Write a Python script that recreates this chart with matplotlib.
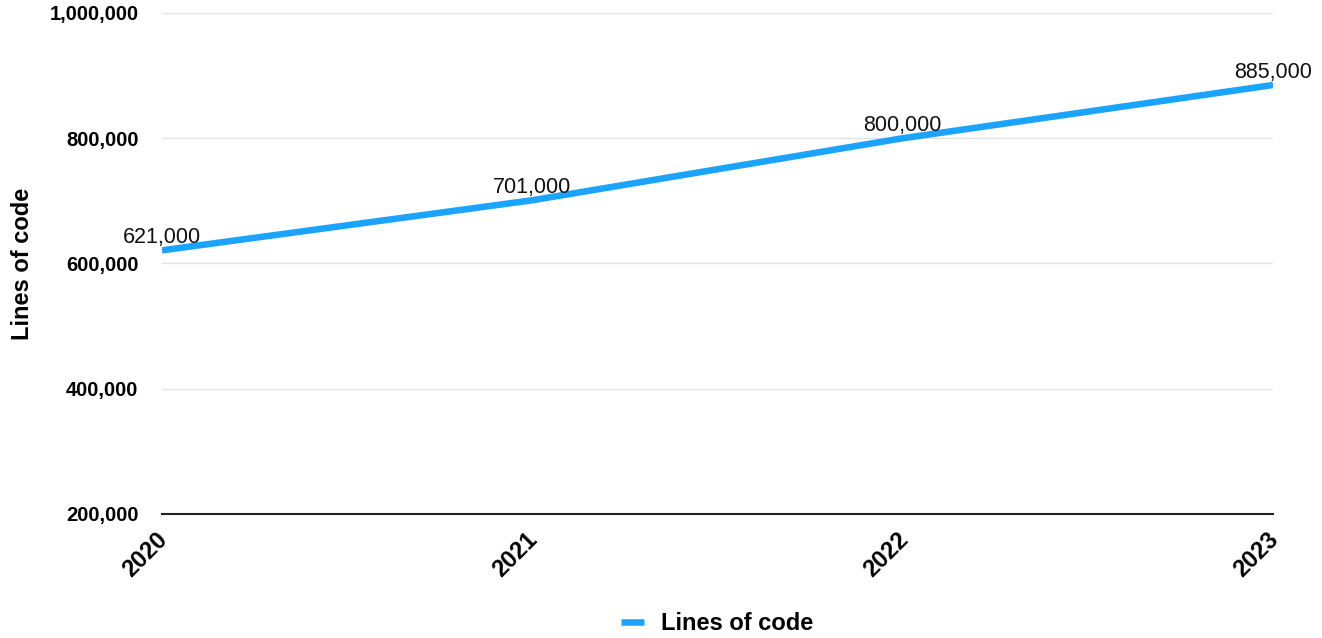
import matplotlib
matplotlib.use("Agg")
import matplotlib.pyplot as plt
from matplotlib.ticker import FuncFormatter

years = ["2020", "2021", "2022", "2023"]
lines_of_code = [621000, 701000, 800000, 885000]
y_ticks = [200000, 400000, 600000, 800000, 1000000]
series_name = "Lines of code"

plt.rcParams["font.family"] = ["Liberation Sans", "DejaVu Sans"]

fig = plt.figure(figsize=(13.22, 6.38), dpi=100)
ax = fig.add_axes([162 / 1322, 1 - 514 / 638, (1273 - 162) / 1322, (514 - 13) / 638])

x = list(range(len(years)))
ax.plot(x, lines_of_code, color="#1aa3ff", linewidth=4.7,
        solid_capstyle="butt", solid_joinstyle="round", label=series_name, zorder=3)

# value labels above each point
for xi, v in zip(x, lines_of_code):
    ax.annotate(f"{v:,}", (xi, v), xytext=(0, 1.5), textcoords="offset points",
                ha="center", va="bottom", fontsize=15.5, color="#111111", zorder=4)

ax.set_xlim(0, len(years) - 1)
ax.set_ylim(y_ticks[0], y_ticks[-1])
ax.set_yticks(y_ticks)
ax.yaxis.set_major_formatter(FuncFormatter(lambda v, p: f"{int(v):,}"))
ax.set_xticks(x)
ax.set_xticklabels([])
for lbl in ax.get_yticklabels():
    lbl.set_fontweight("bold")
    lbl.set_fontsize(14.5)

# rotated year labels under the axis
for xi, year in zip(x, years):
    ax.annotate(year, (xi, 0), xycoords=("data", "axes fraction"),
                xytext=(-4.5, -10), textcoords="offset points",
                rotation=45, rotation_mode="anchor", ha="right", va="top",
                fontsize=17, fontweight="bold", annotation_clip=False)

ax.tick_params(axis="both", length=0)
ax.tick_params(axis="y", pad=17)

ax.grid(axis="y", color="#e2e2e2", linewidth=1)
ax.set_axisbelow(True)
for side in ["top", "right", "left"]:
    ax.spines[side].set_visible(False)
ax.spines["bottom"].set_color("#222222")
ax.spines["bottom"].set_linewidth(1.5)

fig.text(23 / 1322, 1 - 264 / 638, series_name, rotation=90, ha="center", va="center",
         fontsize=17, fontweight="bold")

fig.legend(loc="center", bbox_to_anchor=(717 / 1322, 1 - 624 / 638), frameon=False,
           prop={"size": 17, "weight": "bold"}, handlelength=1.0, handletextpad=0.7)

fig.savefig("out.png", dpi=100)
